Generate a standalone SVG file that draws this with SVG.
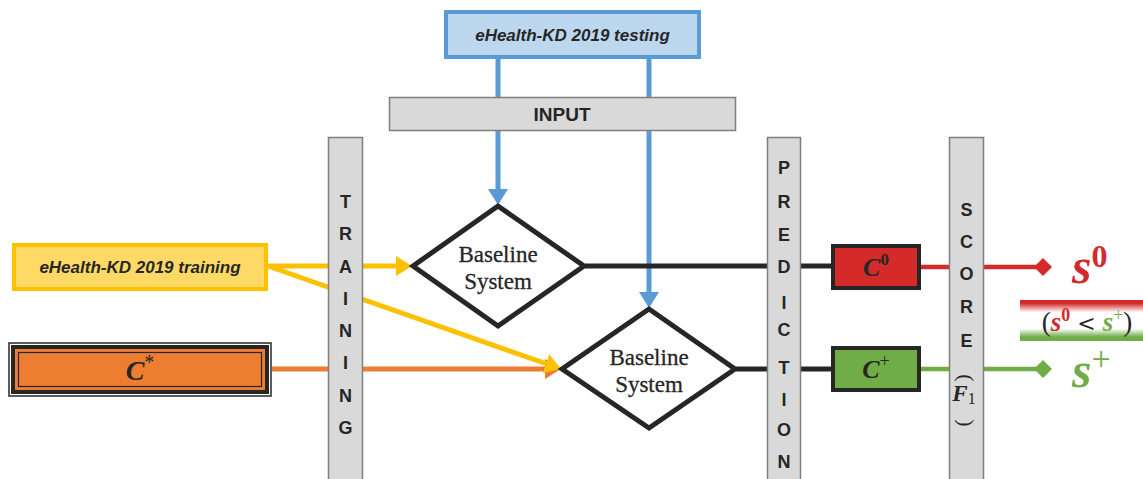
<svg xmlns="http://www.w3.org/2000/svg" width="1143" height="479" viewBox="0 0 1143 479">
  <style>
    .bar { fill: #D9D9D9; stroke: #7F7F7F; stroke-width: 1.5; }
    .barlbl { font-family: "Liberation Sans", Arial, sans-serif; font-weight: bold; font-size: 18px; fill: #262626; text-anchor: middle; }
    .data { font-family: "Liberation Sans", Arial, sans-serif; font-weight: bold; font-style: italic; font-size: 17px; fill: #262626; text-anchor: middle; }
    .diamond { fill: #FFFFFF; stroke: #262626; stroke-width: 5; stroke-linejoin: miter; }
    .sys { font-family: "Liberation Serif", "Times New Roman", serif; font-size: 23px; fill: #262626; text-anchor: middle; stroke: #262626; stroke-width: 0.3; }
    .math { font-family: "Liberation Serif", "Times New Roman", serif; font-style: italic; font-weight: bold; }
    .conn { fill: none; stroke-width: 5; }
    .blue { stroke: #5B9BD5; }
    .yellow { stroke: #FFC000; }
    .orange { stroke: #ED7D31; }
    .black { stroke: #262626; }
    .red { stroke: #D42A2A; stroke-width: 4.5; }
    .green { stroke: #70AD47; stroke-width: 4.5; }
  </style>
  <defs>
    <marker id="arrBlue" markerUnits="userSpaceOnUse" markerWidth="16" markerHeight="20" viewBox="0 0 16 20" refX="1" refY="10" orient="auto">
      <path d="M0,0 L16,10 L0,20 Z" fill="#5B9BD5"/>
    </marker>
    <marker id="arrYellow" markerUnits="userSpaceOnUse" markerWidth="16" markerHeight="20" viewBox="0 0 16 20" refX="1" refY="10" orient="auto">
      <path d="M0,0 L16,10 L0,20 Z" fill="#FFC000"/>
    </marker>
    <marker id="arrOrange" markerUnits="userSpaceOnUse" markerWidth="16" markerHeight="20" viewBox="0 0 16 20" refX="1" refY="10" orient="auto">
      <path d="M0,0 L16,10 L0,20 Z" fill="#ED7D31"/>
    </marker>
    <marker id="dmdRed" markerUnits="userSpaceOnUse" markerWidth="20" markerHeight="20" viewBox="0 0 20 20" refX="4" refY="10" orient="auto">
      <path d="M1,10 L10,1 L19,10 L10,19 Z" fill="#D42A2A"/>
    </marker>
    <marker id="dmdGreen" markerUnits="userSpaceOnUse" markerWidth="20" markerHeight="20" viewBox="0 0 20 20" refX="4" refY="10" orient="auto">
      <path d="M1,10 L10,1 L19,10 L10,19 Z" fill="#70AD47"/>
    </marker>
    <linearGradient id="cmpGrad" x1="0" y1="0" x2="0" y2="1">
      <stop offset="0" stop-color="#D42A2A"/>
      <stop offset="0.08" stop-color="#D42A2A"/>
      <stop offset="0.3" stop-color="#FFFFFF"/>
      <stop offset="0.7" stop-color="#FFFFFF"/>
      <stop offset="0.9" stop-color="#70AD47"/>
      <stop offset="1" stop-color="#70AD47"/>
    </linearGradient>
  </defs>

  <!-- connectors (drawn first so the stage bars sit on top) -->
  <g id="connectors">
    <line class="conn blue" x1="498" y1="58" x2="498" y2="190" marker-end="url(#arrBlue)"/>
    <line class="conn blue" x1="649" y1="58" x2="649" y2="293" marker-end="url(#arrBlue)"/>
    <line class="conn orange" x1="272" y1="369" x2="546" y2="369" marker-end="url(#arrOrange)"/>
    <line class="conn yellow" x1="268" y1="266" x2="397" y2="266" marker-end="url(#arrYellow)"/>
    <line class="conn yellow" x1="268" y1="266" x2="546.9" y2="364" marker-end="url(#arrYellow)"/>
    <line class="conn black" x1="585" y1="266" x2="832" y2="266"/>
    <line class="conn black" x1="736" y1="369" x2="832" y2="369"/>
    <line class="conn red" x1="921" y1="267" x2="1037" y2="267" marker-end="url(#dmdRed)"/>
    <line class="conn green" x1="921" y1="369" x2="1037" y2="369" marker-end="url(#dmdGreen)"/>
  </g>

  <!-- test corpus -->
  <g id="testing">
    <rect x="446" y="12" width="253" height="45" fill="#BDD7EE" stroke="#5B9BD5" stroke-width="4"/>
    <text class="data" x="572.5" y="41">eHealth-KD 2019 testing</text>
  </g>

  <!-- input stage -->
  <g id="input">
    <rect x="389.5" y="97.5" width="346" height="33" class="bar"/>
    <text class="barlbl" x="562" y="121" style="font-size:19px">INPUT</text>
  </g>

  <!-- training corpus -->
  <g id="training-data">
    <rect x="14" y="245" width="252" height="44" fill="#FFD966" stroke="#FFC000" stroke-width="4"/>
    <text class="data" x="140" y="273">eHealth-KD 2019 training</text>
  </g>

  <!-- extra collection C* -->
  <g id="c-star">
    <rect x="9" y="343" width="262" height="53" fill="#FFFFFF" stroke="#262626" stroke-width="1.5"/>
    <rect x="13" y="347" width="254" height="45" fill="#ED7D31" stroke="#262626" stroke-width="4"/>
    <rect x="18.5" y="352.5" width="243" height="34" fill="none" stroke="#262626" stroke-width="1.2"/>
    <text class="math" x="140" y="380" font-size="28" fill="#262626" text-anchor="middle">C<tspan font-size="20" dy="-11" font-weight="normal" font-style="normal">*</tspan></text>
  </g>

  <!-- training stage -->
  <g id="training-stage">
    <rect x="328.5" y="137.5" width="34" height="350" class="bar"/>
    <text class="barlbl" x="345.5" y="208">T</text>
    <text class="barlbl" x="345.5" y="240">R</text>
    <text class="barlbl" x="345.5" y="273">A</text>
    <text class="barlbl" x="345.5" y="305">I</text>
    <text class="barlbl" x="345.5" y="337">N</text>
    <text class="barlbl" x="345.5" y="369">I</text>
    <text class="barlbl" x="345.5" y="402">N</text>
    <text class="barlbl" x="345.5" y="434">G</text>
  </g>

  <!-- baseline systems -->
  <g id="baseline-0">
    <polygon class="diamond" points="498,206 584,266 498,326 413,266"/>
    <text class="sys" x="498" y="262">Baseline</text>
    <text class="sys" x="498" y="289">System</text>
  </g>
  <g id="baseline-plus">
    <polygon class="diamond" points="649,309 735,369 649,428 562,369"/>
    <text class="sys" x="649" y="365">Baseline</text>
    <text class="sys" x="649" y="392">System</text>
  </g>

  <!-- prediction stage -->
  <g id="prediction-stage">
    <rect x="767.5" y="137.5" width="33" height="350" class="bar"/>
    <text class="barlbl" x="784" y="174">P</text>
    <text class="barlbl" x="784" y="208">R</text>
    <text class="barlbl" x="784" y="241">E</text>
    <text class="barlbl" x="784" y="273">D</text>
    <text class="barlbl" x="784" y="309">I</text>
    <text class="barlbl" x="784" y="336">C</text>
    <text class="barlbl" x="784" y="374">T</text>
    <text class="barlbl" x="784" y="406">I</text>
    <text class="barlbl" x="784" y="436">O</text>
    <text class="barlbl" x="784" y="468">N</text>
  </g>

  <!-- predicted collections -->
  <g id="c-zero">
    <rect x="833" y="246" width="86" height="42" fill="#D42A2A" stroke="#262626" stroke-width="4"/>
    <text class="math" x="876" y="276" font-size="26" fill="#262626" text-anchor="middle">C<tspan font-size="17" dy="-11" font-style="normal">0</tspan></text>
  </g>
  <g id="c-plus">
    <rect x="833" y="348" width="86" height="42" fill="#70AD47" stroke="#262626" stroke-width="4"/>
    <text class="math" x="876" y="378" font-size="26" fill="#262626" text-anchor="middle">C<tspan font-size="18" dy="-11" font-style="normal" font-weight="normal">+</tspan></text>
  </g>

  <!-- score stage -->
  <g id="score-stage">
    <rect x="949.5" y="137.5" width="34" height="350" class="bar"/>
    <text class="barlbl" x="966.5" y="216">S</text>
    <text class="barlbl" x="966.5" y="248">C</text>
    <text class="barlbl" x="966.5" y="280">O</text>
    <text class="barlbl" x="966.5" y="313">R</text>
    <text class="barlbl" x="966.5" y="347">E</text>
    <text font-family="Liberation Serif, serif" font-size="22" fill="#262626" text-anchor="middle" transform="translate(966,378) rotate(90)" dominant-baseline="central">(</text>
    <text class="math" x="964" y="401" font-size="23" fill="#262626" text-anchor="middle">F<tspan font-size="16" dy="3" font-style="normal" font-weight="normal">1</tspan></text>
    <text font-family="Liberation Serif, serif" font-size="22" fill="#262626" text-anchor="middle" transform="translate(966,423) rotate(90)" dominant-baseline="central">)</text>
  </g>

  <!-- scores -->
  <g id="score-zero">
    <text class="math" x="1072" y="283" font-size="50" fill="#D42A2A">s<tspan font-size="32" dy="-16" font-style="normal">0</tspan></text>
  </g>
  <g id="comparison">
    <rect x="1020" y="300" width="123" height="41" fill="url(#cmpGrad)"/>
    <text x="1087" y="331" font-family="Liberation Serif, serif" font-size="27" fill="#262626" text-anchor="middle">(<tspan class="math" fill="#D42A2A">s</tspan><tspan fill="#D42A2A" font-size="18" dy="-10" font-weight="bold">0</tspan><tspan dy="10" font-family="DejaVu Serif, serif" font-size="22"> &lt; </tspan><tspan class="math" fill="#70AD47">s</tspan><tspan fill="#70AD47" font-size="18" dy="-10">+</tspan><tspan dy="10">)</tspan></text>
  </g>
  <g id="score-plus">
    <text class="math" x="1072" y="387" font-size="50" fill="#70AD47">s<tspan font-size="34" dy="-17" font-style="normal" font-weight="normal">+</tspan></text>
  </g>
</svg>
